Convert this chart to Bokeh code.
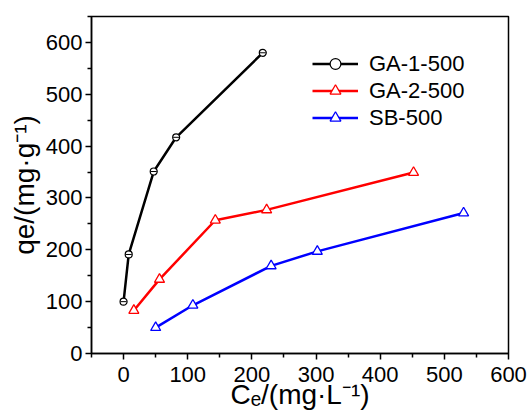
from bokeh.plotting import figure
from bokeh.models import Legend, LegendItem, FixedTicker, Range1d
from bokeh.embed import file_html
from bokeh.resources import INLINE

# ---- data ----
ga1_ce = [0, 8, 47, 82, 217]
ga1_qe = [100, 191, 351, 417, 580]
ga2_ce = [16, 56, 143, 223, 452]
ga2_qe = [83, 143, 257, 277, 349]
sb_ce = [50, 108, 230, 302, 530]
sb_qe = [50, 93, 169, 197, 271]

series_names = ["GA-1-500", "GA-2-500", "SB-500"]
x_ticks = [0, 100, 200, 300, 400, 500, 600]
x_minor = [-50, 50, 150, 250, 350, 450, 550]
y_ticks = [0, 100, 200, 300, 400, 500, 600]
y_minor = [50, 150, 250, 350, 450, 550, 650]
x_title = "Cₑ/(mg·L⁻¹)"
y_title = "qe/(mg·g⁻¹)"

FONT = "Liberation Sans"

p = figure(width=528, height=412, output_backend="svg", toolbar_location=None,
           x_range=Range1d(-50, 600), y_range=Range1d(0, 650),
           min_border_left=91, min_border_right=20, min_border_top=16,
           min_border_bottom=59)
p.background_fill_color = "white"
p.border_fill_color = "white"
p.grid.visible = False
p.outline_line_color = "black"
p.outline_line_width = 1.5

p.xaxis.ticker = FixedTicker(ticks=x_ticks, minor_ticks=x_minor)
p.yaxis.ticker = FixedTicker(ticks=y_ticks, minor_ticks=y_minor)
for ax in (p.xaxis[0], p.yaxis[0]):
    ax.axis_line_width = 1.5
    ax.axis_line_color = "black"
    ax.major_tick_line_width = 1.5
    ax.minor_tick_line_width = 1.5
    ax.major_tick_line_color = "black"
    ax.minor_tick_line_color = "black"
    ax.major_tick_in = 0
    ax.minor_tick_in = 0
    ax.major_tick_out = 6
    ax.minor_tick_out = 4
    ax.major_label_text_font = FONT
    ax.major_label_text_font_size = "22px"
    ax.major_label_text_color = "black"
    ax.axis_label_text_font = FONT
    ax.axis_label_text_font_size = "28px"
    ax.axis_label_text_font_style = "normal"
    ax.axis_label_text_color = "black"
p.xaxis.major_label_standoff = 7
p.yaxis.major_label_standoff = 3
p.xaxis.axis_label = x_title
p.yaxis.axis_label = y_title
p.xaxis.axis_label_standoff = -6
p.yaxis.axis_label_standoff = 3

# ---- series ----
l1 = p.line(ga1_ce, ga1_qe, line_color="black", line_width=2.5)
s1 = p.scatter(ga1_ce, ga1_qe, marker="circle", size=7, line_color="black",
               fill_color="white", line_width=1.2)
p.scatter(ga1_ce, ga1_qe, marker="dash", size=6, line_color="black", line_width=1)

l2 = p.line(ga2_ce, ga2_qe, line_color="#ff0000", line_width=2.5)
s2 = p.scatter(ga2_ce, ga2_qe, marker="triangle", size=10, line_color="#ff0000",
               fill_color="white", line_width=1.3)

l3 = p.line(sb_ce, sb_qe, line_color="#0000ff", line_width=2.5)
s3 = p.scatter(sb_ce, sb_qe, marker="triangle", size=10, line_color="#0000ff",
               fill_color="white", line_width=1.3)

legend = Legend(items=[LegendItem(label=series_names[0], renderers=[l1, s1]),
                       LegendItem(label=series_names[1], renderers=[l2, s2]),
                       LegendItem(label=series_names[2], renderers=[l3, s3])],
                location=(221, 222), orientation="vertical",
                glyph_width=46, glyph_height=27, label_height=27,
                label_standoff=11, spacing=0, padding=0, margin=0,
                border_line_color=None, background_fill_alpha=0,
                label_text_font=FONT, label_text_font_size="22px",
                label_text_color="black")
p.add_layout(legend)

open("out.html", "w").write(file_html(p, INLINE))
